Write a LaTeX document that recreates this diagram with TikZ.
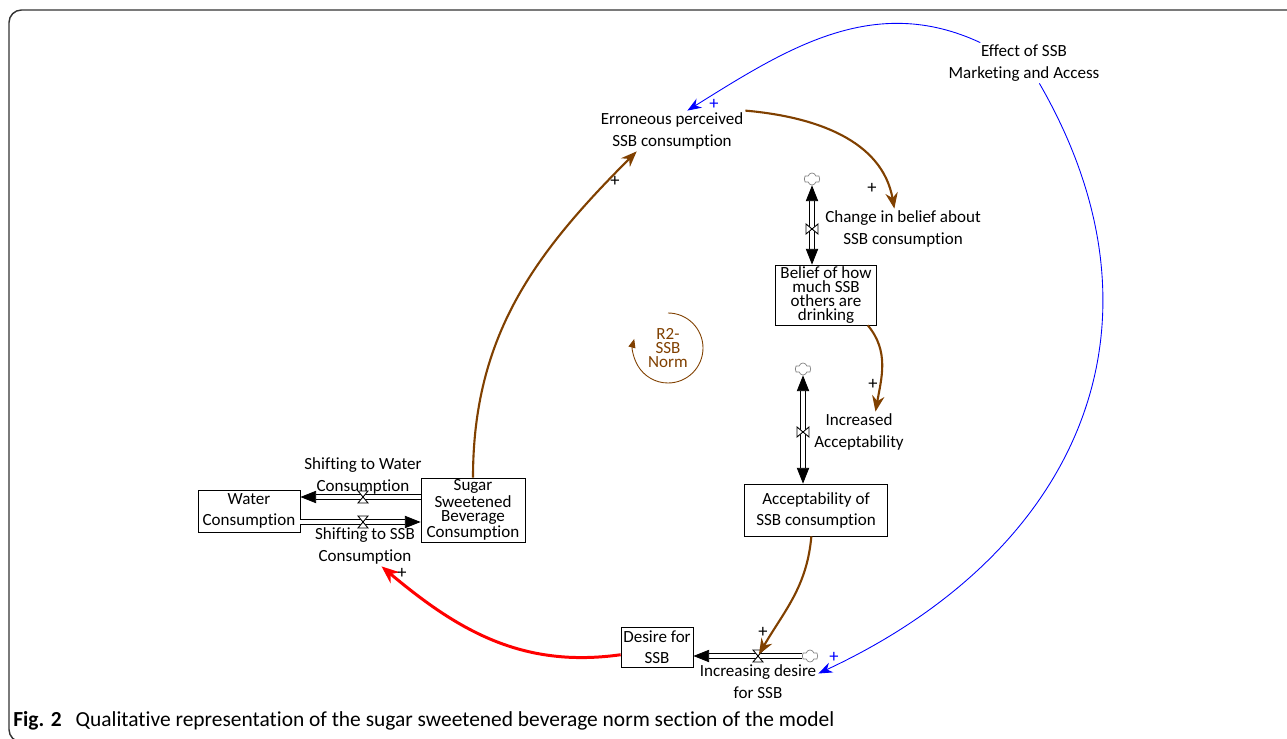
\documentclass[tikz,border=0pt]{standalone}
\usepackage{fontspec}
\setmainfont{Carlito}[Ligatures=NoCommon, RawFeature={-clig;-calt}]
\usetikzlibrary{arrows.meta,shapes.symbols}
\definecolor{linkbrown}{RGB}{128,64,0}
\definecolor{linkred}{RGB}{255,0,0}
\definecolor{linkblue}{RGB}{0,0,255}

\begin{document}
\begin{tikzpicture}[
    x=0.02cm, y=-0.02cm,
    % Stocks and variables
    stock/.style={draw, thin, align=center, inner sep=1pt, font=\fontsize{9.7}{12}\selectfont},
    tightstock/.style={stock, font=\fontsize{9.7}{7.9}\selectfont},
    var/.style={align=center, inner sep=1pt, font=\fontsize{9.7}{12.5}\selectfont},
    cloudnode/.style={cloud, cloud puffs=6, draw=gray, thin, minimum width=0.32cm, minimum height=0.24cm, inner sep=0pt},
    % Flows
    pipe/.style={draw=black, line width=0.5pt, double=white, double distance=2.2pt, -{Triangle[length=9pt,width=7pt]}},
    pipe2/.style={pipe, {Triangle[length=9pt,width=7pt]}-{Triangle[length=9pt,width=7pt]}},
    valve/.pic={\draw[fill=white, line width=0.5pt] (-5,-6) -- (5,-6) -- (-5,6) -- (5,6) -- cycle;},
    % Causal links
    brownlink/.style={draw=linkbrown, line width=1.2pt, -{Stealth[length=9pt,width=7pt]}},
    redlink/.style={draw=linkred, line width=1.7pt, -{Stealth[length=10pt,width=8pt]}},
    bluelink/.style={draw=linkblue, line width=0.5pt, -{Stealth[length=8pt,width=6pt]}},
    polarity/.style={inner sep=0pt, font=\fontsize{10.5}{10.5}\selectfont},
]
\useasboundingbox (0,0) rectangle (1287,739);

% Frame
\draw[gray!40!black, line width=0.8pt, rounded corners=0.25cm] (1300,10) -- (9,10) -- (9,742) -- (1300,742);

% === STOCKS ===
\node[stock, minimum width=2.04cm, minimum height=0.84cm] (water) at (249,511) {Water\\Consumption};
\node[tightstock, minimum width=2.08cm, minimum height=1.18cm] (ssb) at (473,510) {Sugar\\Sweetened\\Beverage\\Consumption};
\node[tightstock, minimum width=2.02cm, minimum height=1.2cm] (belief) at (826,295) {Belief of how\\much SSB\\others are\\drinking};
\node[stock, minimum width=2.86cm, minimum height=1.04cm] (accept) at (816,510) {Acceptability of\\SSB consumption};
\node[stock, minimum width=1.44cm, minimum height=0.8cm] (desire) at (657,647) {Desire for\\SSB};

% === VARIABLES ===
\node[var] (effect) at (1024,63) {Effect of SSB\\Marketing and Access};
\node[var] (erroneous) at (672,131) {Erroneous perceived\\SSB consumption};
\node[var] (change) at (903,229) {Change in belief about\\SSB consumption};
\node[var] (increased) at (859,432) {Increased\\Acceptability};
\node[var] (increasing) at (758,682) {Increasing desire\\for SSB};
\node[var] (shiftwater) at (363,476) {Shifting to Water\\Consumption};
\node[var] (shiftssb) at (365,546) {Shifting to SSB\\Consumption};

% === CLOUDS AND VALVES ===
\node[cloudnode] (cloudA) at (812,179) {};
\node[cloudnode] (cloudB) at (803,369) {};
\node[cloudnode] (cloudC) at (810,656) {};
\coordinate (vbelief) at (812,229);
\coordinate (vaccept) at (803,432);
\coordinate (vdesire) at (758,656);
\coordinate (vwater) at (363,497);
\coordinate (vssb) at (363,522);

% === FLOWS ===
\draw[pipe] (ssb.west |- vwater) -- (water.east |- vwater);
\draw[pipe] (water.east |- vssb) -- (ssb.west |- vssb);
\draw[pipe2] (cloudA.south) -- (cloudA |- belief.north);
\draw[pipe2] (cloudB.south) -- (cloudB |- accept.north);
\draw[pipe] (cloudC.west) -- (desire.east |- cloudC);

\pic at (vwater) {valve};
\pic at (vssb) {valve};
\pic[rotate=90] at (vbelief) {valve};
\pic[rotate=90] at (vaccept) {valve};
\pic at (vdesire) {valve};

% === CAUSAL LINKS ===
\draw[brownlink] (ssb.north) to[out=90, in=225] (erroneous.210);
\draw[brownlink] (erroneous.north east) to[out=-5, in=100] (change.113);
\draw[brownlink] (belief.-36) to[out=-50, in=80] (increased.51);
\draw[brownlink, shorten >=1pt] (accept.-100) to[out=-95, in=60] (vdesire);
\draw[redlink] (desire.-168) to[out=188, in=-40] (shiftssb.-51);
\draw[bluelink] (effect.155) to[out=155, in=32] (erroneous.53);
\draw[bluelink] (effect.-53) to[out=-60, in=25, looseness=1.15] (increasing.8);

% Polarities
\node[polarity] (p1) at (615,181) {+};
\node[polarity, linkblue] (p2) at (714,104) {+};
\node[polarity] (p3) at (872,188) {+};
\node[polarity] (p4) at (873,384) {+};
\node[polarity] (p5) at (763,632) {+};
\node[polarity] (p6) at (402,573) {+};
\node[polarity, linkblue] (p7) at (834,657) {+};

% === LOOP ===
\node[var, linkbrown, font=\fontsize{9.7}{8}\selectfont] (loop) at (668,348) {R2-\\SSB\\Norm};
\draw[linkbrown, line width=0.5pt, -{Triangle[length=5pt,width=4pt]}] ([shift={(90:0.7cm)}]loop.center) arc[start angle=90, end angle=-195, radius=0.7cm];

% Caption
\node[anchor=base west, inner sep=0pt, font=\fontsize{12.2}{14}\selectfont] (caption) at (13,726) {\textbf{Fig. 2}\hspace{8pt}Qualitative representation of the sugar sweetened beverage norm section of the model};

\end{tikzpicture}
\end{document}
